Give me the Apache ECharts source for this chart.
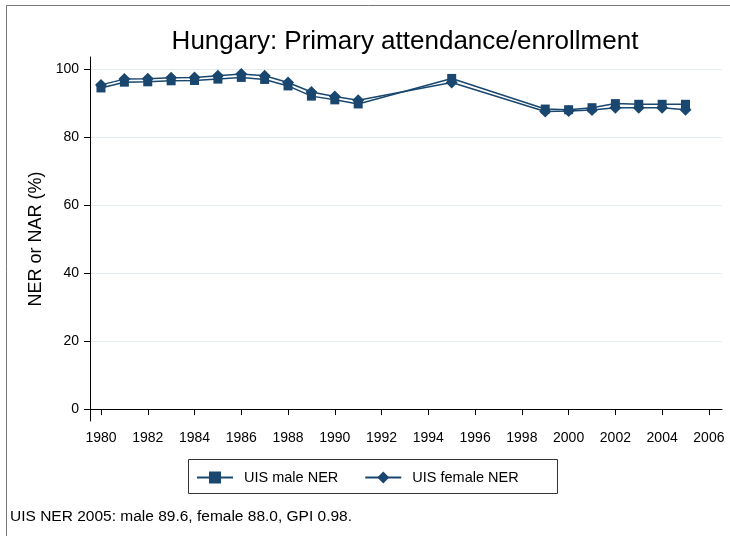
<!DOCTYPE html>
<html>
<head>
<meta charset="utf-8">
<script src="https://cdn.jsdelivr.net/npm/echarts@6/dist/echarts.min.js"></script>
<style>html,body{margin:0;padding:0;background:#fff}#c{width:730px;height:536px}</style>
</head>
<body>
<div id="c"></div>
<script>
const years = [1980,1981,1982,1983,1984,1985,1986,1987,1988,1989,1990,1991,1995,1999,2000,2001,2002,2003,2004,2005];
const maleNER = [94.4,96.1,96.2,96.5,96.6,97.0,97.5,96.9,95.0,92.0,90.9,89.7,97.2,88.2,88.0,88.6,89.8,89.6,89.6,89.6];
const femaleNER = [95.3,97.0,97.1,97.4,97.5,98.0,98.5,98.0,96.0,93.2,91.9,90.8,96.0,87.5,87.6,87.9,88.6,88.6,88.6,88.0];
const xTicks = [1980,1982,1984,1986,1988,1990,1992,1994,1996,1998,2000,2002,2004,2006];
const yTicks = [0,20,40,60,80,100];

const font = '"Liberation Sans", Arial, sans-serif';
const navy = '#1a476f';
const chart = echarts.init(document.getElementById('c'), null, {renderer: 'canvas'});
chart.setOption({
  backgroundColor: '#fff',
  animation: false,
  title: {
    text: 'Hungary: Primary attendance/enrollment',
    left: 400, top: 24, textAlign: 'center',
    textStyle: {fontFamily: font, fontSize: 26, fontWeight: 'normal', color: '#000'}
  },
  grid: {left: 90, right: 8, top: 57, bottom: 115, containLabel: false},
  xAxis: {
    type: 'value', min: 1979.53, max: 2006.56,
    axisLine: {show: true, lineStyle: {color: '#000', width: 1}},
    axisTick: {show: true, length: 6, customValues: xTicks, lineStyle: {color: '#000'}},
    axisLabel: {customValues: xTicks, formatter: v => String(v), fontFamily: font, fontSize: 14, color: '#000', margin: 10},
    splitLine: {show: false}
  },
  yAxis: {
    type: 'value', min: -3.5, max: 103.5,
    name: 'NER or NAR (%)', nameLocation: 'middle', nameGap: 44,
    nameTextStyle: {fontFamily: font, fontSize: 18, color: '#000'},
    axisLine: {show: true, lineStyle: {color: '#000', width: 1}},
    axisTick: {show: true, length: 6, customValues: yTicks, lineStyle: {color: '#000'}},
    axisLabel: {customValues: yTicks, formatter: v => String(v), fontFamily: font, fontSize: 14, color: '#000', margin: 11},
    splitLine: {show: true, lineStyle: {color: '#e3ecef', width: 1}}
  },
  legend: {
    left: 191, top: 465, itemGap: 26, itemWidth: 36, itemHeight: 15,
    textStyle: {fontFamily: font, fontSize: 14.5, color: '#000', padding: [0, 0, 0, 6]},
    data: ['UIS male NER', 'UIS female NER']
  },
  graphic: [
    {type: 'rect', shape: {x: 6.5, y: 5.5, width: 740, height: 560}, style: {fill: 'none', stroke: '#777', lineWidth: 1}, silent: true, z: 100},
    {type: 'rect', shape: {x: 188.5, y: 459.5, width: 369, height: 34}, style: {fill: 'none', stroke: '#333', lineWidth: 1}, silent: true},
    {type: 'text', left: 10, top: 509, style: {text: 'UIS NER 2005: male 89.6, female 88.0, GPI 0.98.', font: '15.5px ' + font, fill: '#000'}}
  ],
  series: [
    {name: 'UIS male NER', type: 'line', data: years.map((y, i) => [y, maleNER[i]]),
     symbol: 'rect', symbolSize: 9, itemStyle: {color: navy}, lineStyle: {color: navy, width: 1.5}},
    {name: 'UIS female NER', type: 'line', data: years.map((y, i) => [y, femaleNER[i]]),
     symbol: 'diamond', symbolSize: 12, itemStyle: {color: navy}, lineStyle: {color: navy, width: 1.5}}
  ]
});
</script>
</body>
</html>
